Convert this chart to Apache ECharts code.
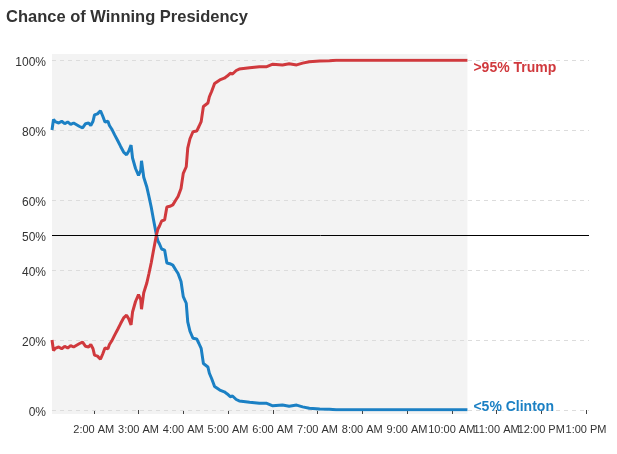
<!DOCTYPE html>
<html>
<head>
<meta charset="utf-8">
<script src="https://cdn.jsdelivr.net/npm/echarts@6/dist/echarts.min.js"></script>
<style>
html,body{margin:0;padding:0;background:#fff;}
#chart{width:617px;height:454px;}
</style>
</head>
<body>
<div id="chart"></div>
<script>
// Times (local, election night) and chance-of-winning values (%)
const times = ["01:04","01:06","01:09","01:13","01:17","01:21","01:25","01:29","01:33","01:37","01:41","01:45","01:49","01:53","01:56","01:59",
"02:01","02:05","02:09","02:12","02:15","02:19","02:21","02:24","02:28","02:32","02:36","02:40","02:44","02:47","02:50","02:52","02:56",
"03:00","03:03","03:04","03:07","03:11","03:14","03:17","03:20","03:24","03:26","03:28","03:31","03:35","03:38","03:42","03:46","03:50","03:53","03:57",
"04:00","04:04","04:06","04:09","04:13","04:18","04:21","04:24","04:27","04:33","04:35","04:38","04:42","04:49","04:55","04:59",
"05:03","05:06","05:11","05:15","05:29","05:42","05:52","06:00","06:13","06:22","06:32","06:40","06:49","07:03","07:16","07:25","07:43","08:50","10:21"];
const clinton = [80.0,83.0,82.3,82.0,82.5,81.8,82.3,81.6,82.0,81.5,81.0,80.6,81.8,82.0,81.3,82.5,
84.3,84.6,85.5,84.0,82.3,82.5,81.3,80.3,78.6,77.0,75.3,73.7,72.9,74.0,75.7,72.0,69.0,
67.0,68.5,71.2,66.5,63.8,61.0,58.0,54.5,50.0,48.3,47.5,46.0,45.7,42.0,41.8,41.4,40.0,39.0,36.7,
32.4,30.5,25.2,22.5,20.5,20.3,19.0,17.6,13.3,12.3,10.5,9.0,6.7,5.7,5.2,4.6,
3.8,4.0,3.0,2.6,2.2,1.9,1.9,1.2,1.4,1.1,1.4,0.9,0.5,0.3,0.2,0.1,0.1,0.1,0.1];
const trump = [20.0,17.0,17.7,18.0,17.5,18.2,17.7,18.4,18.0,18.5,19.0,19.4,18.2,18.0,18.7,17.5,
15.7,15.4,14.5,16.0,17.7,17.5,18.7,19.7,21.4,23.0,24.7,26.3,27.1,26.0,24.3,28.0,31.0,
33.0,31.5,28.8,33.5,36.2,39.0,42.0,45.5,50.0,51.7,52.5,54.0,54.3,58.0,58.2,58.6,60.0,61.0,63.3,
67.6,69.5,74.8,77.5,79.5,79.7,81.0,82.4,86.7,87.7,89.5,91.0,93.3,94.3,94.8,95.4,
96.2,96.0,97.0,97.4,97.8,98.1,98.1,98.8,98.6,98.9,98.6,99.1,99.5,99.7,99.8,99.9,99.9,99.9,99.9];
const yTicks = [0, 20, 40, 60, 80, 100];
const axisStart = "01:04";
const axisEnd = "13:04";
const trumpLabel = ">95% Trump";
const clintonLabel = "<5% Clinton";
const title = "Chance of Winning Presidency";

function ts(hm){ const p = hm.split(":"); return new Date(2016,10,9,+p[0],+p[1]).getTime(); }
const clintonData = times.map((t,i)=>[ts(t), clinton[i]]);
const trumpData = times.map((t,i)=>[ts(t), trump[i]]);
const tFirst = ts(times[0]), tLast = ts(times[times.length-1]);
const FONT = "Liberation Sans";

const chart = echarts.init(document.getElementById('chart'));
chart.setOption({
  animation:false,
  backgroundColor:'#fff',
  textStyle:{fontFamily:FONT},
  title:{text:title,left:6,top:9,padding:0,textStyle:{fontSize:16.5,fontWeight:'bold',color:'#333',fontFamily:FONT}},
  grid:[
    {left:52,right:28,top:60,bottom:44,containLabel:false},
    {left:52,right:28,top:54,bottom:40,containLabel:false}
  ],
  xAxis:[{
    type:'time', min:ts(axisStart), max:ts(axisEnd),
    minInterval:3600000, maxInterval:3600000,
    offset:5,
    axisLine:{show:false},
    axisTick:{show:true,length:4,lineStyle:{color:'#444'}},
    splitLine:{show:false},
    axisLabel:{fontSize:11,color:'#333',margin:9,hideOverlap:false,showMinLabel:false,showMaxLabel:false,
      formatter:function(v){const d=new Date(v);let h=d.getHours();const ap=h<12?'AM':'PM';h=h%12;if(h===0)h=12;return h+':00 '+ap;}}
  },{
    gridIndex:1, type:'time', min:ts(axisStart), max:ts(axisEnd), show:false
  }],
  yAxis:[{
    type:'value', min:yTicks[0], max:yTicks[yTicks.length-1], interval:20, z:1.5,
    axisLine:{show:false}, axisTick:{show:false},
    axisLabel:{fontSize:12,color:'#333',margin:6,verticalAlign:'top',lineHeight:5,formatter:'{value}%'},
    splitLine:{show:true,lineStyle:{color:'#dcdcdc',type:[4,4],width:1}}
  },{
    gridIndex:1, type:'value', min:0, max:1, show:false
  }],
  series:[
    {
      type:'line', xAxisIndex:1, yAxisIndex:1, data:[[tFirst,0],[tLast,0]], z:-1, silent:true, showSymbol:false,
      lineStyle:{opacity:0}, itemStyle:{opacity:0},
      markArea:{silent:true,z:-1,itemStyle:{color:'#f3f3f3'},
        data:[[{xAxis:tFirst,yAxis:0},{xAxis:tLast,yAxis:1}]]}
    },
    {
      name:'Clinton', type:'line', data:clintonData, showSymbol:false, z:2,
      lineStyle:{color:'#1b80c4',width:3}, itemStyle:{color:'#1b80c4'},
      emphasis:{disabled:true},
      endLabel:{show:true,formatter:clintonLabel,color:'#1b80c4',fontWeight:'bold',fontSize:14,fontFamily:FONT,distance:6,offset:[0,-3]},
      markLine:{silent:true,symbol:'none',animation:false,
        lineStyle:{color:'#000',width:1,type:'solid'},
        label:{position:'start',formatter:'50%',fontSize:12,color:'#333',distance:6,offset:[0,3]},
        data:[{yAxis:50}]}
    },
    {
      name:'Trump', type:'line', data:trumpData, showSymbol:false, z:3,
      lineStyle:{color:'#d0393d',width:3}, itemStyle:{color:'#d0393d'},
      emphasis:{disabled:true},
      endLabel:{show:true,formatter:trumpLabel,color:'#d0393d',fontWeight:'bold',fontSize:14,fontFamily:FONT,distance:6,offset:[0,7.5]}
    }
  ]
});
</script>
</body>
</html>
